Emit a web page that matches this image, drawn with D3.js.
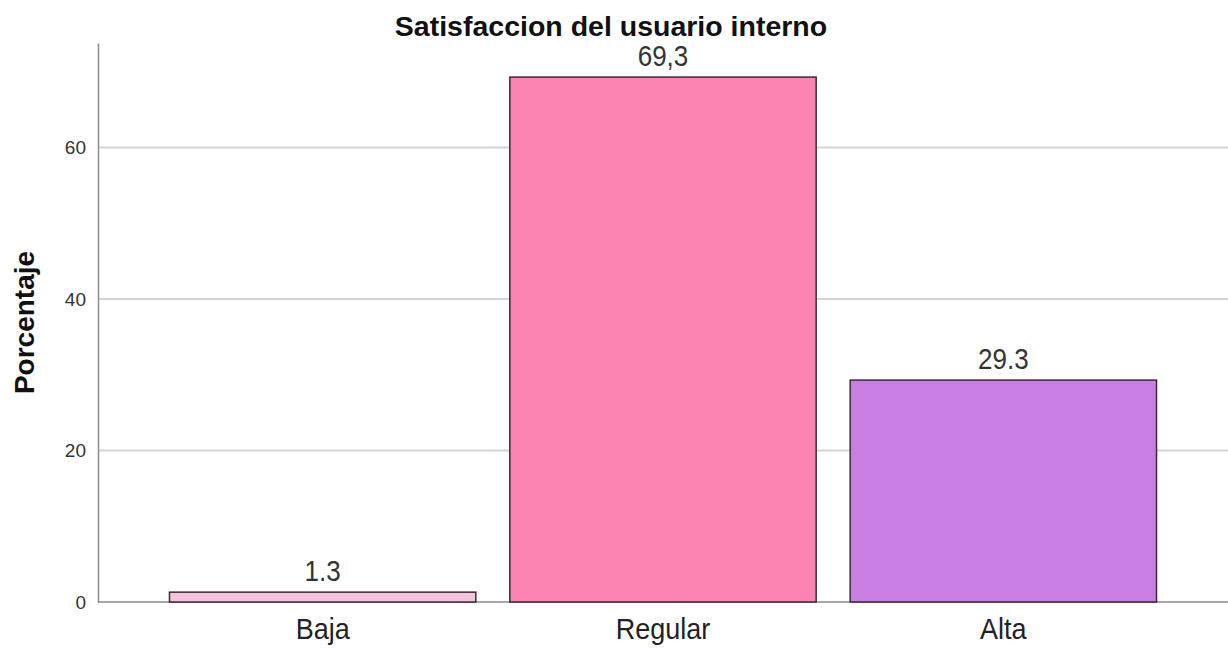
<!DOCTYPE html>
<html>
<head>
<meta charset="utf-8">
<script src="https://cdn.jsdelivr.net/npm/d3@7"></script>
<style>
  body { margin: 0; background: #fff; }
  text { font-family: "Liberation Sans", Arial, sans-serif; }
</style>
</head>
<body>
<div id="chart"></div>
<script>
// datos del grafico
var categorias = ["Baja", "Regular", "Alta"];
var porcentajes = [1.3, 69.3, 29.3];
var etiquetas = ["1.3", "69,3", "29.3"];
var colores = ["#f6c3de", "#fd83b2", "#c97ee3"];
var ticksY = [0, 20, 40, 60];

var width = 1228, height = 649;
var margin = {top: 43, right: 0, bottom: 47, left: 98};

var svg = d3.select("#chart")
  .append("svg")
    .attr("width", width)
    .attr("height", height);

var x = d3.scaleBand()
  .domain(categorias)
  .range([margin.left, width - margin.right])
  .paddingInner(0.1)
  .paddingOuter(0.21);

var y = d3.scaleLinear()
  .domain([0, 73.8])
  .range([height - margin.bottom, margin.top]);

// lineas de cuadricula
svg.selectAll("grid")
  .data(ticksY.slice(1))
  .enter()
  .append("line")
    .attr("x1", margin.left)
    .attr("x2", width)
    .attr("y1", function(d) { return y(d); })
    .attr("y2", function(d) { return y(d); })
    .attr("stroke", "#d4d4d4")
    .attr("stroke-width", 2);

// eje Y
var ejeY = svg.append("g")
  .attr("transform", "translate(" + margin.left + ",0)")
  .call(d3.axisLeft(y).tickValues(ticksY).tickSize(0).tickPadding(12));
ejeY.select(".domain").attr("stroke", "#8a8a8a").attr("stroke-width", 1.5);
ejeY.selectAll("text")
  .attr("font-size", 19)
  .attr("fill", "#333")
  .style("font-family", "Liberation Sans, Arial, sans-serif");

// linea base
svg.append("line")
  .attr("x1", margin.left)
  .attr("x2", width)
  .attr("y1", y(0))
  .attr("y2", y(0))
  .attr("stroke", "#8a8a8a")
  .attr("stroke-width", 1.5);

// barras
svg.selectAll("barra")
  .data(porcentajes)
  .enter()
  .append("rect")
    .attr("x", function(d, i) { return x(categorias[i]); })
    .attr("y", function(d) { return y(d); })
    .attr("width", x.bandwidth())
    .attr("height", function(d) { return y(0) - y(d); })
    .attr("fill", function(d, i) { return colores[i]; })
    .attr("stroke", "#3a2a30")
    .attr("stroke-width", 1.5);

// etiquetas de valor (algo estiradas en vertical como en el original)
svg.selectAll("valor")
  .data(porcentajes)
  .enter()
  .append("text")
    .attr("transform", function(d, i) {
      return "translate(" + (x(categorias[i]) + x.bandwidth() / 2) + "," + (y(d) - 11) + ") scale(1,1.1)";
    })
    .attr("text-anchor", "middle")
    .attr("font-size", 26)
    .attr("fill", "#333")
    .text(function(d, i) { return etiquetas[i]; });

// etiquetas de categoria
svg.selectAll("categoria")
  .data(categorias)
  .enter()
  .append("text")
    .attr("transform", function(d) {
      return "translate(" + (x(d) + x.bandwidth() / 2) + "," + (y(0) + 37) + ") scale(1,1.08)";
    })
    .attr("text-anchor", "middle")
    .attr("font-size", 27)
    .attr("fill", "#222")
    .text(function(d) { return d; });

// titulo
svg.append("text")
  .attr("x", width / 2 - 3)
  .attr("y", 36)
  .attr("text-anchor", "middle")
  .attr("font-size", 28.5)
  .attr("font-weight", "bold")
  .attr("fill", "#111")
  .text("Satisfaccion del usuario interno");

// titulo eje Y
svg.append("text")
  .attr("transform", "translate(34," + ((margin.top + y(0)) / 2) + ") rotate(-90)")
  .attr("text-anchor", "middle")
  .attr("font-size", 28)
  .attr("font-weight", "bold")
  .attr("fill", "#111")
  .text("Porcentaje");
</script>
</body>
</html>
